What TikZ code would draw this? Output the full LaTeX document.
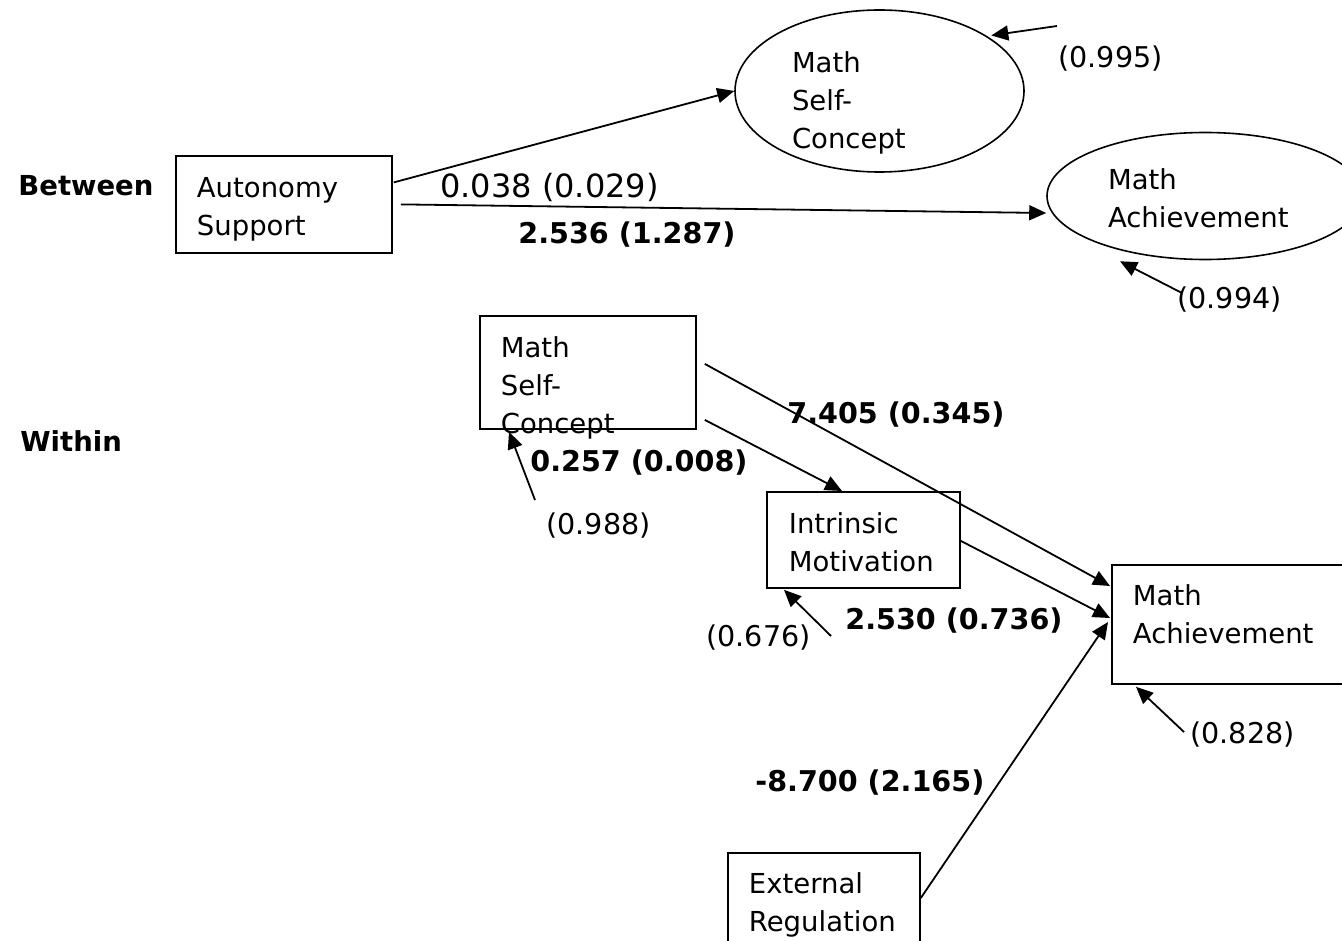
\documentclass[tikz,border=0pt]{standalone}
\usepackage{fontspec}
\setmainfont{DejaVu Sans}
\usetikzlibrary{calc, positioning}
\usetikzlibrary{shapes.geometric}
\usetikzlibrary{arrows.meta}
\lefthyphenmin=62
\newcommand{\pathfont}{\fontsize{13.75}{19}\selectfont}
\newcommand{\coeffont}{\fontsize{14.3}{19}\selectfont}

\begin{document}
\begin{tikzpicture}[x=0.5pt,y=-0.5pt,
  varbox/.style={draw, line width=0.9pt, anchor=north west, inner xsep=10.5pt,
    inner ysep=0pt, align=left, font=\pathfont},
  latent/.style={ellipse, draw, line width=0.8pt, inner sep=0pt, align=left,
    font=\pathfont},
  coef/.style={anchor=base west, inner sep=0pt, font=\coeffont},
  effect/.style={-{Triangle[length=8.5pt,width=7.5pt]}, line width=0.9pt},
  resid/.style={-{Triangle[length=8.5pt,width=7.5pt]}, line width=0.9pt}]
\useasboundingbox (0,0) rectangle (1342,941);

% Level labels
\node[coef, font=\pathfont\bfseries] (between) at (18,196) {Between};
\node[coef, font=\pathfont\bfseries] (within) at (20,451) {Within};

% Between level
\node[varbox, text width=87pt, text height=21pt, text depth=27.5pt]
  (as) at (175,155) {Autonomy\\Support};
\node[latent, minimum width=144.5pt, minimum height=81pt, text width=87.5pt,
  text height=10pt, text depth=28pt] (msb) at (879.5,91) {Math\\Self-\\Concept};
\node[latent, minimum width=158pt, minimum height=63.5pt, text width=97pt,
  text height=10pt, text depth=16pt] (mab) at (1205,196) {Math\\Achievement};

\draw[effect] ($(as.east)+(1,-22)$) -- (msb.west);
\draw[effect] ($(as.east)+(8,0)$) -- ($(mab.west)+(0,17)$);
\node[coef, font=\fontsize{16}{19}\selectfont] (c038) at (440,198) {0.038 (0.029)};
\node[coef, font=\coeffont\bfseries] (c2536) at (518,243) {2.536 (1.287)};

% Residuals, between level
\node[coef] (r995) at (1058,68) {(0.995)};
\node[coef] (r994) at (1177,308) {(0.994)};
\coordinate (e995) at (1057,26);
\coordinate (e994) at (1182,293);
\draw[resid] (e995) -- ($(msb.26)+(2,-2)$);
\draw[resid] (e994) -- ($(mab.south)+(-85,1)$);

% Within level
\node[varbox, text width=87pt, text height=21pt, text depth=35.5pt]
  (msw) at (479,315) {Math\\Self-\\Concept};
\node[varbox, inner xsep=11pt, text width=74.5pt, text height=21pt, text depth=27pt]
  (imw) at (766,491) {Intrinsic\\Motivation};
\node[varbox, text width=109pt, text height=20.5pt, text depth=39pt]
  (maw) at (1111,564) {Math\\Achievement};
\node[varbox, text width=75pt, text height=20.5pt, text depth=50pt]
  (erw) at (727,852) {External\\Regulation};

\draw[effect] ($(msw.east)+(8,-8.5)$) -- ($(maw.north west)+(-1,22)$);
\draw[effect] ($(msw.east)+(8,47.5)$) -- ($(imw.north west)+(76,0)$);
\draw[effect] ($(imw.east)+(0,1)$) -- ($(maw.north west)+(-1,54)$);
\draw[effect] ($(erw.north east)+(0,46)$) -- ($(maw.north west)+(-3,58)$);

\node[coef, font=\coeffont\bfseries] (c7405) at (787,423) {7.405 (0.345)};
\node[coef, font=\coeffont\bfseries] (c0257) at (530,471) {0.257 (0.008)};
\node[coef, font=\coeffont\bfseries] (c2530) at (845,629) {2.530 (0.736)};
\node[coef, font=\coeffont\bfseries] (c8700) at (755,791) {-8.700 (2.165)};

% Residuals, within level
\node[coef] (r988) at (546,534) {(0.988)};
\node[coef] (r676) at (706,646) {(0.676)};
\node[coef] (r828) at (1190,743) {(0.828)};
\coordinate (e988) at (535,500);
\coordinate (e676) at (831,636);
\coordinate (e828) at (1184,732);
\draw[resid] (e988) -- ($(msw.south west)+(30,2)$);
\draw[resid] (e676) -- ($(imw.south west)+(18,1)$);
\draw[resid] (e828) -- ($(maw.south west)+(25,2)$);
\end{tikzpicture}
\end{document}
